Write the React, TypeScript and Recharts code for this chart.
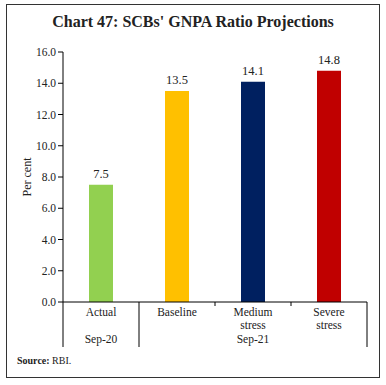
import { BarChart, Bar, XAxis, YAxis, Cell, LabelList } from "recharts";

const categories = ["Actual", "Baseline", "Medium stress", "Severe stress"];
const categoryLines = [["Actual"], ["Baseline"], ["Medium", "stress"], ["Severe", "stress"]];
const values = [7.5, 13.5, 14.1, 14.8];
const barColors = ["#92D050", "#FFC000", "#002060", "#C00000"];
const groups = ["Sep-20", "Sep-21"];
const yTicks = [0, 2, 4, 6, 8, 10, 12, 14, 16];

const data = categories.map((name, i) => ({ name, value: values[i], idx: i }));

const FONT = "'Liberation Serif', 'DejaVu Serif', serif";
const BAND = 76;

function CategoryTick(props: any) {
  const { x, y, payload, index } = props;
  const i = payload?.index ?? index;
  const lines = categoryLines[i] || [];
  const half = BAND / 2;
  const axisY = y - 8;
  return (
    <g>
      {lines.map((t, k) => (
        <text key={k} x={x} y={axisY + 14 + k * 12.5} textAnchor="middle" fontSize={11.5} fontFamily={FONT} fill="#222">
          {t}
        </text>
      ))}
      {i === 0 && (
        <>
          <line x1={x - half} y1={axisY} x2={x - half} y2={axisY + 45} stroke="#000" strokeWidth={1} />
          <line x1={x + half} y1={axisY} x2={x + half} y2={axisY + 45} stroke="#000" strokeWidth={1} />
          <text x={x} y={axisY + 41} textAnchor="middle" fontSize={11.5} fontFamily={FONT} fill="#222">
            {groups[0]}
          </text>
        </>
      )}
      {(i === 1 || i === 2) && (
        <line x1={x + half} y1={axisY} x2={x + half} y2={axisY + 4} stroke="#000" strokeWidth={1} />
      )}
      {i === 2 && (
        <text x={x} y={axisY + 41} textAnchor="middle" fontSize={11.5} fontFamily={FONT} fill="#222">
          {groups[1]}
        </text>
      )}
      {i === 3 && (
        <line x1={x + half} y1={axisY} x2={x + half} y2={axisY + 45} stroke="#000" strokeWidth={1} />
      )}
    </g>
  );
}

export default function App() {
  return (
    <div style={{ position: "absolute", left: 0, top: 0, width: 386, height: 385, background: "#fff" }}>
      <div
        style={{
          position: "absolute",
          left: 6,
          top: 4,
          width: 372,
          height: 372,
          border: "1.5px solid #333",
        }}
      />
      <div
        style={{
          position: "absolute",
          left: 0,
          top: 13,
          width: 386,
          textAlign: "center",
          fontFamily: FONT,
          fontWeight: "bold",
          fontSize: 16,
          color: "#222",
        }}
      >
        Chart 47: SCBs' GNPA Ratio Projections
      </div>
      <div style={{ position: "absolute", left: 0, top: 0 }}>
        <BarChart width={386} height={385} data={data} margin={{ top: 52, right: 19, left: 0, bottom: 0 }}>
          <XAxis
            dataKey="name"
            tickLine={false}
            axisLine={{ stroke: "#000", strokeWidth: 1 }}
            tick={<CategoryTick />}
            interval={0}
            height={83}
          />
          <YAxis
            width={63}
            domain={[0, 16]}
            ticks={yTicks}
            tickFormatter={(v: number) => v.toFixed(1)}
            tickLine={{ stroke: "#000" }}
            tickSize={5}
            axisLine={{ stroke: "#000", strokeWidth: 1 }}
            tick={{ fontSize: 11.5, fontFamily: FONT, fill: "#222" }}
            label={{ value: "Per cent", angle: -90, position: "insideLeft", offset: 27, style: { fontSize: 12, fontFamily: FONT, fill: "#222", textAnchor: "middle" } }}
          />
          <Bar dataKey="value" isAnimationActive={false} barSize={24}>
            {data.map((d) => (
              <Cell key={d.name} fill={barColors[d.idx]} />
            ))}
            <LabelList
              dataKey="value"
              position="top"
              offset={7}
              formatter={(v: any) => Number(v).toFixed(1)}
              style={{ fontSize: 12.5, fontFamily: FONT, fill: "#222" }}
            />
          </Bar>
        </BarChart>
      </div>
      <div style={{ position: "absolute", left: 17, top: 355, fontFamily: FONT, fontSize: 10, color: "#222" }}>
        <b>Source:</b> RBI.
      </div>
    </div>
  );
}
